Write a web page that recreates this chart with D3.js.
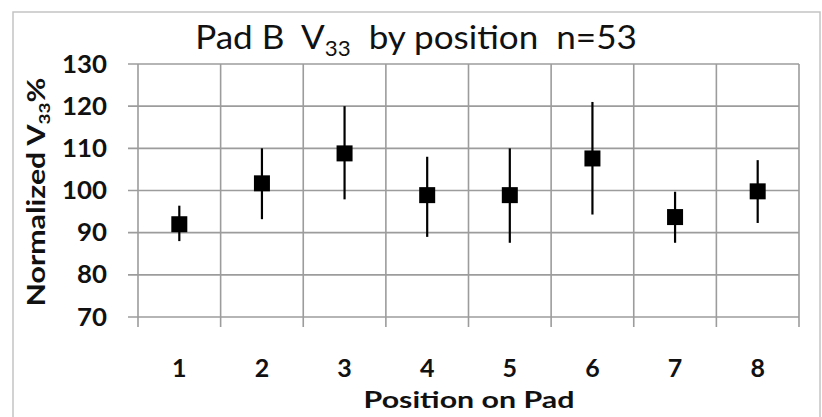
<!DOCTYPE html>
<html><head><meta charset="utf-8">
<script src="https://cdn.jsdelivr.net/npm/d3@7"></script>
<style>
html,body{margin:0;padding:0;background:#fff;}
svg{display:block;}
text{font-family:Lato,"Open Sans",sans-serif;white-space:pre;font-variant-numeric:lining-nums;}
</style></head>
<body>
<svg id="c" width="822" height="417"></svg>
<script>
const positions = ["1","2","3","4","5","6","7","8"];
const means = [92, 101.7, 108.8, 98.9, 98.9, 107.6, 93.7, 99.8];
const upper = [96.4, 110, 120, 108, 110, 121, 99.7, 107.2];
const lower = [88, 93.2, 97.9, 89, 87.6, 94.3, 87.6, 92.3];
const yTicks = [70, 80, 90, 100, 110, 120, 130];

const svg = d3.select("#c");
const m = {left:138, right:799, top:64, bottom:317};
const x = d3.scaleBand().domain(positions).range([m.left, m.right]);
const y = d3.scaleLinear().domain([70,130]).range([m.bottom, m.top]);
const grid = "#9c9c9c";

// outer frame
svg.append("rect").attr("x",13).attr("y",12).attr("width",807).attr("height",420)
  .attr("fill","none").attr("stroke","#c4c4c4").attr("stroke-width",1.5);

// horizontal gridlines + y ticks
svg.append("g").selectAll("line").data(yTicks).join("line")
  .attr("x1", m.left-10).attr("x2", m.right)
  .attr("y1", d=>y(d)).attr("y2", d=>y(d))
  .attr("stroke", grid).attr("stroke-width",1.6);

// vertical gridlines at band boundaries + x ticks
const bounds = positions.map(p=>x(p)).concat([x(positions[positions.length-1])+x.bandwidth()]);
svg.append("g").selectAll("line").data(bounds).join("line")
  .attr("x1", d=>d).attr("x2", d=>d)
  .attr("y1", m.top).attr("y2", m.bottom+10)
  .attr("stroke", grid).attr("stroke-width",1.6);

// y tick labels
svg.append("g").selectAll("text").data(yTicks).join("text")
  .attr("x", 107).attr("y", d=>y(d)+8.5)
  .attr("text-anchor","end").attr("font-weight","bold").attr("font-size",25)
  .attr("fill","#111").attr("textLength",d=>String(d).length*15).attr("lengthAdjust","spacingAndGlyphs")
  .text(d=>d);

// x tick labels
svg.append("g").selectAll("text").data(positions).join("text")
  .attr("x", d=>x(d)+x.bandwidth()/2).attr("y", 377)
  .attr("text-anchor","middle").attr("font-weight","bold").attr("font-size",25)
  .attr("fill","#111")
  .text(d=>d);

// error bars
const cx = i => x(positions[i]) + x.bandwidth()/2;
svg.append("g").selectAll("line").data(means).join("line")
  .attr("x1",(d,i)=>cx(i)).attr("x2",(d,i)=>cx(i))
  .attr("y1",(d,i)=>y(upper[i])).attr("y2",(d,i)=>y(lower[i]))
  .attr("stroke","#000").attr("stroke-width",2.2);

// markers
const s = 16;
svg.append("g").selectAll("rect").data(means).join("rect")
  .attr("x",(d,i)=>cx(i)-s/2).attr("y",d=>y(d)-s/2)
  .attr("width",s).attr("height",s).attr("fill","#000");

function fit(t, w){
  const b = t.node().getBBox();
  return w / b.width;
}

// title
const title = svg.append("text").attr("font-size",33).attr("fill","#111")
  .attr("text-anchor","middle");
title.append("tspan").text("Pad B  V");
title.append("tspan").attr("font-size",21).attr("dy",7).text("33");
title.append("tspan").attr("dy",-7).text("  by position  n=53");
{
  const k = fit(title, 442);
  title.attr("transform", `translate(416,49) scale(${k},1)`);
}

// x axis title
const xt = svg.append("text").attr("font-size",23).attr("font-weight","bold").attr("fill","#111")
  .attr("text-anchor","middle").text("Position on Pad");
{
  const k = fit(xt, 211);
  xt.attr("transform", `translate(469,408) scale(${k},1)`);
}

// y axis title
const yt = svg.append("text").attr("font-size",24).attr("font-weight","bold").attr("fill","#111")
  .attr("text-anchor","middle");
yt.append("tspan").text("Normalized V");
yt.append("tspan").attr("font-size",15).attr("dy",5).text("33");
yt.append("tspan").attr("dy",-5).text("%");
{
  const k = fit(yt, 229);
  yt.attr("transform", `translate(45,192) rotate(-90) scale(${k},1)`);
}
</script>
</body></html>
